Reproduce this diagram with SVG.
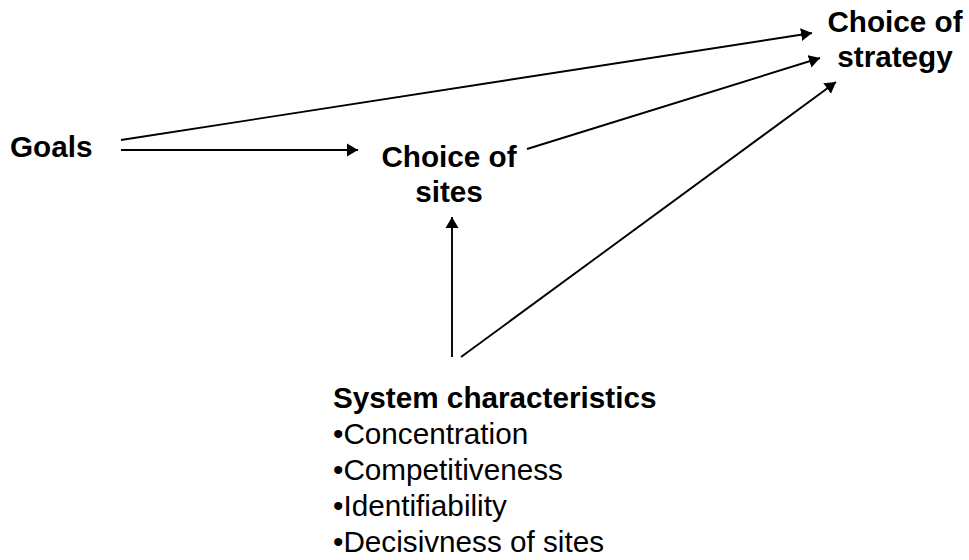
<svg xmlns="http://www.w3.org/2000/svg" width="969" height="560" viewBox="0 0 969 560">
<style>
.t{font-family:"Liberation Sans",Arial,sans-serif;font-size:29.7px;fill:#000}
.b{font-weight:bold}
.c{stroke:#000;stroke-width:1.9;fill:none}
</style>
<defs>
<marker id="ah" markerUnits="userSpaceOnUse" markerWidth="13" markerHeight="14" viewBox="0 0 13 14" refX="11" refY="7" orient="auto">
<path d="M0,0.5 L11,7 L0,13.5 Z" fill="#000"/>
</marker>
</defs>
<rect width="969" height="560" fill="#fff"/>
<g id="connectors">
<line class="c" x1="121" y1="140" x2="812" y2="33" marker-end="url(#ah)"/>
<line class="c" x1="121" y1="150" x2="358" y2="150" marker-end="url(#ah)"/>
<line class="c" x1="527" y1="149" x2="820" y2="58" marker-end="url(#ah)"/>
<line class="c" x1="452" y1="357" x2="452" y2="217" marker-end="url(#ah)"/>
<line class="c" x1="461" y1="357" x2="836" y2="82" marker-end="url(#ah)"/>
</g>
<g id="goals"><text class="t b" x="10" y="157">Goals</text></g>
<g id="choice-of-sites"><text class="t b" text-anchor="middle" x="449" y="167">Choice of</text><text class="t b" text-anchor="middle" x="449" y="202">sites</text></g>
<g id="choice-of-strategy"><text class="t b" text-anchor="middle" x="895" y="32">Choice of</text><text class="t b" text-anchor="middle" x="895" y="67">strategy</text></g>
<g id="system-characteristics">
<text class="t b" x="333" y="408">System characteristics</text>
<text class="t" x="333" y="444">•Concentration</text>
<text class="t" x="333" y="480">•Competitiveness</text>
<text class="t" x="333" y="516">•Identifiability</text>
<text class="t" x="333" y="552">•Decisivness of sites</text>
</g>
</svg>
